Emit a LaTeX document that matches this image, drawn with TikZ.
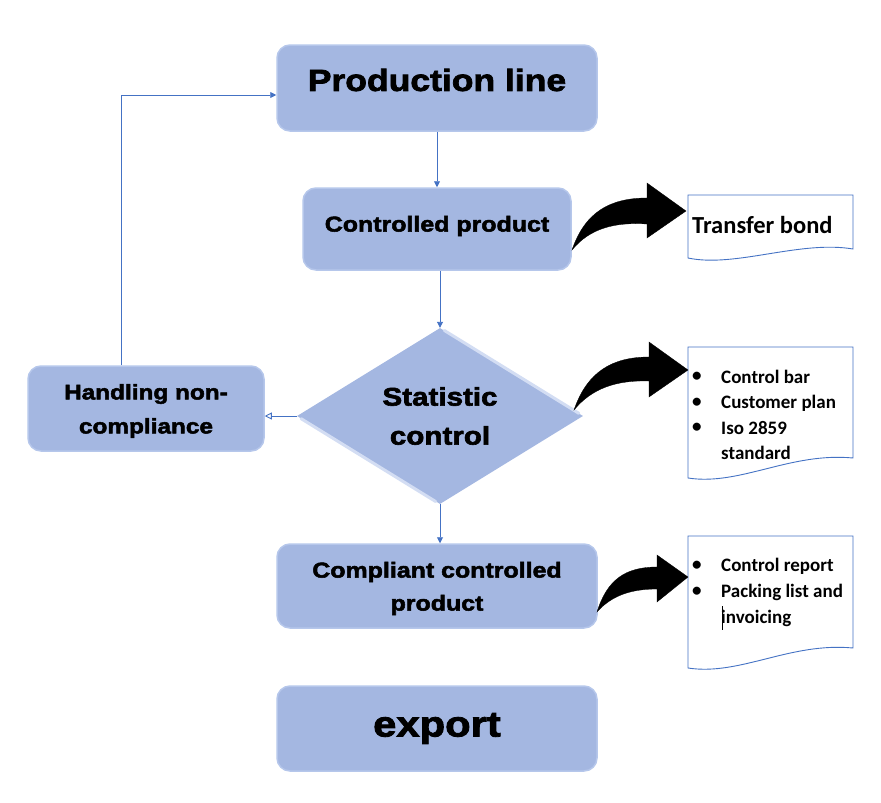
\documentclass[tikz,border=0pt]{standalone}
\usepackage{fontspec}
\setmainfont{Liberation Sans}
\newfontfamily\blk[FakeStretch=1.16,BoldFeatures={FakeBold=2.4}]{Liberation Sans}
\newfontfamily\docfont{Carlito}
\usetikzlibrary{shapes.geometric,arrows.meta,calc}
\definecolor{boxfill}{RGB}{164,183,225}
\definecolor{boxrim}{RGB}{182,199,235}
\definecolor{conn}{RGB}{68,114,196}
\tikzset{
  flowbox/.style={rectangle, rounded corners=13pt, fill=boxfill, draw=boxrim, line width=1.5pt, inner sep=0pt},
  boxtext/.style={inner sep=0pt, align=center},
  connline/.style={draw=conn, line width=0.9pt, -{Triangle[length=6pt,width=6pt]}},
  openline/.style={draw=conn, line width=0.9pt, -{Triangle[open,length=7pt,width=7pt]}},
  docshape/.style={draw=conn, line width=0.9pt, fill=white},
  doctext/.style={anchor=west, inner sep=0pt, font=\docfont\bfseries\fontsize{19}{23}\selectfont},
  bigarrow/.style={fill=black, draw=black, line width=0.3pt}
}
\begin{document}
\begin{tikzpicture}[x=1pt,y=-1pt]
\useasboundingbox (0,0) rectangle (881,803);
% boxes
\node[flowbox, minimum width=320pt, minimum height=86pt] (prod) at (437,88) {};
\node[boxtext, font=\blk\bfseries\fontsize{30.6}{36}\selectfont] (prodt) at ($(prod)+(0,-8)$) {Production line};
\node[flowbox, minimum width=268pt, minimum height=82pt] (ctrl) at (437,229) {};
\node[boxtext, font=\blk\bfseries\fontsize{21.5}{26}\selectfont] (ctrlt) at ($(ctrl)+(0,-3)$) {Controlled product};
\node[flowbox, minimum width=236pt, minimum height=85pt] (hand) at (146,408.5) {};
\node[boxtext, font=\blk\bfseries\fontsize{21}{34}\selectfont] (handt) at ($(hand)+(0,2.5)$) {Handling non-\\compliance};
\node[flowbox, minimum width=320pt, minimum height=84pt] (comp) at (437,586) {};
\node[boxtext, font=\blk\bfseries\fontsize{21.5}{33}\selectfont] (compt) at ($(comp)+(0,2.5)$) {Compliant controlled\\product};
\node[flowbox, minimum width=320pt, minimum height=85pt] (exp) at (437,728.5) {};
\node[boxtext, font=\blk\bfseries\fontsize{36}{40}\selectfont] (expt) at (exp) {export};
% diamond
\node[diamond, aspect=1.625, minimum width=286pt, minimum height=176pt, fill=boxfill, inner sep=0pt, align=center, font=\blk\bfseries\fontsize{25.5}{39}\selectfont] (sc) at (440,416) {Statistic\\control};
\draw[boxrim!60!white, line width=3pt, line cap=round] ($(sc.north)!0.03!(sc.east)$) -- ($(sc.north)!0.97!(sc.east)$);
\draw[boxrim!60!white, line width=3pt, line cap=round] ($(sc.west)!0.03!(sc.south)$) -- ($(sc.west)!0.97!(sc.south)$);
% connectors
\draw[connline] (prod.south) -- (ctrl.north);
\draw[connline] (sc.north |- ctrl.south) -- (sc.north);
\draw[openline] (sc.west) -- (sc.west -| hand.east);
\draw[connline] (sc.south) -- (sc.south |- comp.north);
\coordinate (turn) at (121,95);
\draw[connline] (hand.north -| turn) -- (turn) -- (prod.west |- turn);
% documents
\draw[docshape] (688,258) -- (688,195) -- (853,195) -- (853,249) .. controls (800,240) and (735,268) .. (688,258) -- cycle;
\node[doctext, font=\docfont\bfseries\fontsize{24.5}{28}\selectfont] (d1) at (692,225) {Transfer bond};
\draw[docshape] (688,478) -- (688,347) -- (853,347) -- (853,458) .. controls (790,452) and (740,486) .. (688,478) -- cycle;
\node[doctext] (b1) at (692,377) {•};
\node[doctext] (t1) at (721,377) {Control bar};
\node[doctext] (b2) at (692,403) {•};
\node[doctext] (t2) at (721,403) {Customer plan};
\node[doctext] (b3) at (692,428) {•};
\node[doctext] (t3) at (721,428) {Iso 2859};
\node[doctext] (t4) at (721,453) {standard};
\draw[docshape] (688,668) -- (688,536) -- (853,536) -- (853,648) .. controls (790,642) and (740,676) .. (688,668) -- cycle;
\node[doctext] (b4) at (692,566) {•};
\node[doctext] (t5) at (721,566) {Control report};
\node[doctext] (b5) at (692,592) {•};
\node[doctext] (t6) at (721,592) {Packing list and};
\node[doctext] (t7) at (721,618) {invoicing};
\draw[black, line width=0.8pt] (722,606) -- (722,630);
% black curved arrows
\draw[bigarrow] (572,250) .. controls (585,212) and (610,198) .. (647,198) -- (647,183) -- (686,211) -- (647,238) -- (647,224) .. controls (615,222) and (590,228) .. (572,250) -- cycle;
\draw[bigarrow] (574,410) .. controls (587,372) and (612,357) .. (649,357) -- (649,342) -- (688,370) -- (649,397) -- (649,381) .. controls (617,380) and (592,388) .. (574,410) -- cycle;
\draw[bigarrow] (597,612) .. controls (607,580) and (625,567) .. (657,567) -- (657,555) -- (688,577) -- (657,602) -- (657,589) .. controls (632,589) and (612,595) .. (597,612) -- cycle;
\end{tikzpicture}
\end{document}
